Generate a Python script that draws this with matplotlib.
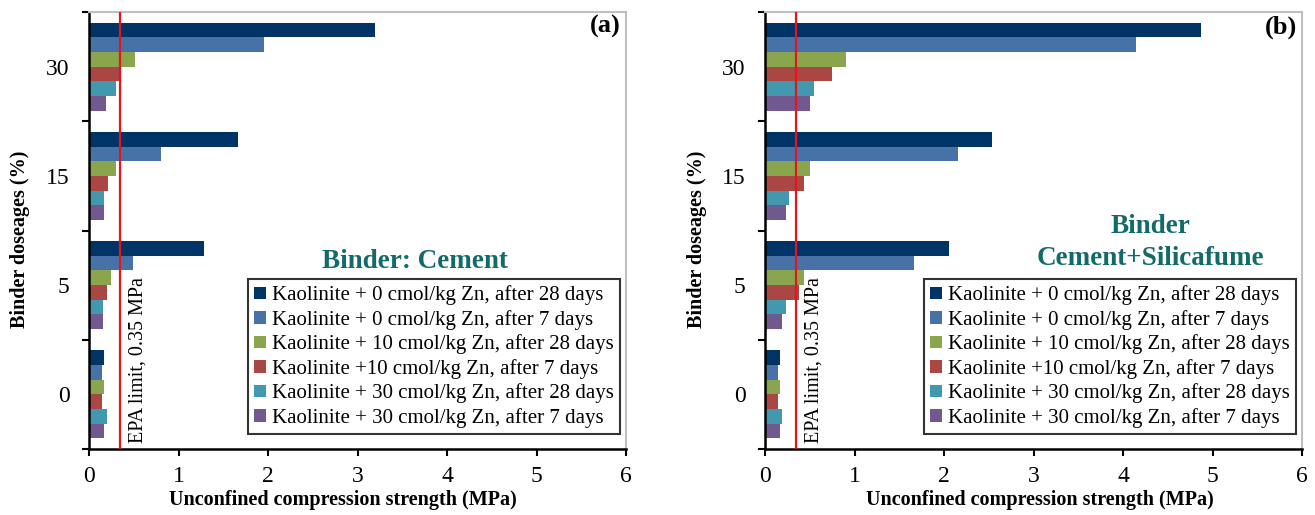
import numpy as np
import matplotlib
matplotlib.use("Agg")
import matplotlib.pyplot as plt

plt.rcParams['font.family'] = ['Liberation Serif', 'DejaVu Serif']

# binder dosage groups, bottom to top
doses = ['0', '5', '15', '30']

series_labels = [
    'Kaolinite + 0 cmol/kg Zn, after 28 days',
    'Kaolinite + 0 cmol/kg Zn, after 7 days',
    'Kaolinite + 10 cmol/kg Zn, after 28 days',
    'Kaolinite +10 cmol/kg Zn, after 7 days',
    'Kaolinite + 30 cmol/kg Zn, after 28 days',
    'Kaolinite + 30 cmol/kg Zn, after 7 days',
]
colors = ['#003366', '#4672A8', '#89A54E', '#AA4643', '#4198AF', '#71588F']

# UCS (MPa) per series, values for doses 0, 5, 15, 30
cement = [
    [0.17, 1.28, 1.66, 3.19],
    [0.15, 0.49, 0.81, 1.96],
    [0.17, 0.25, 0.30, 0.51],
    [0.15, 0.20, 0.21, 0.33],
    [0.20, 0.155, 0.17, 0.30],
    [0.17, 0.155, 0.17, 0.19],
]
silicafume = [
    [0.17, 2.06, 2.54, 4.87],
    [0.15, 1.66, 2.16, 4.15],
    [0.17, 0.44, 0.50, 0.90],
    [0.15, 0.38, 0.44, 0.75],
    [0.19, 0.24, 0.27, 0.55],
    [0.17, 0.19, 0.24, 0.50],
]
epa_limit = 0.35

fig = plt.figure(figsize=(13.15, 5.15), dpi=100)
ax_a = fig.add_axes([89 / 1315, 1 - 449 / 515, 537 / 1315, 437 / 515])
ax_b = fig.add_axes([765 / 1315, 1 - 449 / 515, 537 / 1315, 437 / 515])

teal = '#126B69'
bar_h = 0.134


def draw_panel(ax, data, tag, xlab_x, ylab_x, leg_x):
    centers = np.arange(len(doses)) + 0.5
    for i, vals in enumerate(data):
        ax.barh(centers + (2.5 - i) * bar_h, vals, height=bar_h,
                color=colors[i], label=series_labels[i], linewidth=0)

    ax.axvline(epa_limit, color='#E8141B', lw=1.6, zorder=3)
    ax.text(epa_limit + 0.2, 0.014, 'EPA limit, 0.35 MPa', rotation=90,
            ha='center', va='bottom', fontsize=14.5,
            transform=ax.get_xaxis_transform())

    ax.set_xlim(0, 6)
    ax.set_ylim(0, 4)
    ax.set_xticks(range(7))
    ax.set_yticks(range(5))
    ax.set_yticklabels([])
    ax.set_yticks(centers, minor=True)
    ax.set_yticklabels(doses, minor=True)
    ax.tick_params(axis='x', length=5, width=1.5, pad=7, labelsize=17,
                   direction='out')
    ax.tick_params(axis='y', which='major', length=5, width=1.5, direction='out')
    ax.tick_params(axis='y', which='minor', length=0, pad=14, labelsize=17)

    for s in ['left', 'bottom']:
        ax.spines[s].set_linewidth(1.8)
        ax.spines[s].set_color('black')
    for s in ['top', 'right']:
        ax.spines[s].set_linewidth(1.5)
        ax.spines[s].set_color('#BFBFBF')

    ax.set_xlabel('Unconfined compression strength (MPa)', fontsize=14.5,
                  fontweight='bold')
    ax.xaxis.set_label_coords(xlab_x, -0.093)
    ax.set_ylabel('Binder doseages (%)', fontsize=14.5, fontweight='bold')
    ax.yaxis.set_label_coords(ylab_x, 0.48)

    ax.text(0.961, 0.966, tag, transform=ax.transAxes, ha='center',
            va='center', fontsize=19, fontweight='bold')

    leg = ax.legend(loc='lower left', bbox_to_anchor=(leg_x, 0.034),
                    fontsize=15, frameon=True, fancybox=False,
                    edgecolor='black', handlelength=0.55, handleheight=0.55,
                    handletextpad=0.3, labelspacing=0.22, borderpad=0.3,
                    borderaxespad=0)
    leg.get_frame().set_linewidth(1.5)


draw_panel(ax_a, cement, '(a)', 0.473, -0.11, 0.296)
draw_panel(ax_b, silicafume, '(b)', 0.512, -0.108, 0.296)

ax_a.text(0.607, 0.43, 'Binder: Cement', transform=ax_a.transAxes,
          ha='center', va='center', fontsize=19.5, fontweight='bold',
          color=teal)
ax_b.text(0.717, 0.51, 'Binder', transform=ax_b.transAxes,
          ha='center', va='center', fontsize=19.5, fontweight='bold',
          color=teal)
ax_b.text(0.717, 0.435, 'Cement+Silicafume', transform=ax_b.transAxes,
          ha='center', va='center', fontsize=19.5, fontweight='bold',
          color=teal)

fig.savefig('out.png', dpi=100)
